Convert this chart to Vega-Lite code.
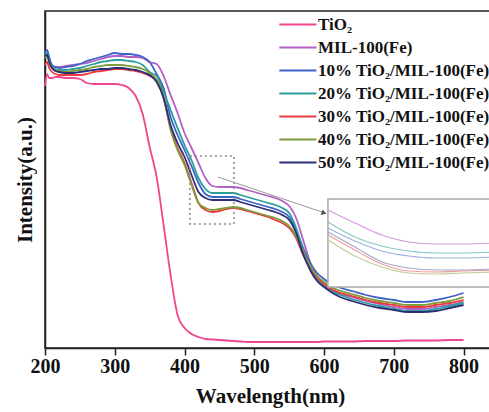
{
  "$schema": "https://vega.github.io/schema/vega-lite/v6.json",
  "width": 450,
  "height": 337,
  "autosize": "none",
  "padding": {"left": 45, "top": 11, "right": 0, "bottom": 64},
  "background": "white",
  "config": {"view": {"stroke": "#222", "strokeWidth": 1.5}, "font": "Liberation Serif"},
  "datasets": {
    "main": [
      {"wl":200,"t":262,"m":293,"a":295,"b":293,"c":283,"d":290,"e":292},
      {"wl":203,"t":274,"m":296,"a":298,"b":295,"c":286,"d":292,"e":293},
      {"wl":206,"t":270,"m":288,"a":291,"b":288,"c":280,"d":286,"e":286},
      {"wl":210,"t":270,"m":282,"a":283,"b":281,"c":276,"d":280,"e":280},
      {"wl":215,"t":271,"m":281,"a":281,"b":279,"c":274,"d":278,"e":277},
      {"wl":220,"t":271,"m":281,"a":280,"b":278,"c":273,"d":277,"e":276},
      {"wl":230,"t":270,"m":282,"a":281,"b":278,"c":273,"d":276,"e":275},
      {"wl":240,"t":270,"m":283,"a":282,"b":279,"c":273,"d":277,"e":275},
      {"wl":250,"t":269,"m":284,"a":284,"b":280,"c":273,"d":278,"e":276},
      {"wl":260,"t":265,"m":285,"a":287,"b":282,"c":274,"d":279,"e":277},
      {"wl":270,"t":264,"m":287,"a":289,"b":284,"c":276,"d":281,"e":278},
      {"wl":280,"t":264,"m":289,"a":291,"b":286,"c":277,"d":282,"e":279},
      {"wl":290,"t":264,"m":291,"a":293,"b":287,"c":278,"d":283,"e":279},
      {"wl":300,"t":264,"m":292,"a":295,"b":288,"c":279,"d":283,"e":280},
      {"wl":310,"t":263,"m":292,"a":294,"b":288,"c":279,"d":283,"e":280},
      {"wl":320,"t":260,"m":291,"a":294,"b":287,"c":278,"d":282,"e":279},
      {"wl":330,"t":252,"m":291,"a":293,"b":286,"c":277,"d":281,"e":278},
      {"wl":340,"t":234,"m":290,"a":291,"b":283,"c":275,"d":279,"e":276},
      {"wl":350,"t":201,"m":286,"a":286,"b":276,"c":272,"d":275,"e":273},
      {"wl":360,"t":171,"m":284,"a":274,"b":272,"c":268,"d":268,"e":266},
      {"wl":370,"t":123,"m":272,"a":260,"b":256,"c":250,"d":251,"e":250},
      {"wl":380,"t":73,"m":253,"a":231,"b":238,"c":220,"d":218,"e":223},
      {"wl":390,"t":33,"m":235,"a":213,"b":220,"c":200,"d":198,"e":205},
      {"wl":400,"t":20,"m":215,"a":198,"b":203,"c":185,"d":183,"e":191},
      {"wl":410,"t":14,"m":200,"a":182,"b":188,"c":165,"d":163,"e":173},
      {"wl":420,"t":11,"m":185,"a":165,"b":170,"c":145,"d":145,"e":156},
      {"wl":430,"t":9,"m":170,"a":154,"b":159,"c":138,"d":140,"e":150},
      {"wl":440,"t":8.5,"m":162,"a":151,"b":155,"c":136,"d":138,"e":148},
      {"wl":450,"t":8,"m":161,"a":151,"b":155,"c":137,"d":139,"e":148},
      {"wl":460,"t":7.5,"m":161,"a":151,"b":155,"c":139,"d":140,"e":148},
      {"wl":470,"t":7,"m":161,"a":151,"b":155,"c":140,"d":141,"e":148},
      {"wl":480,"t":6.5,"m":160,"a":149,"b":153,"c":139,"d":140,"e":146},
      {"wl":490,"t":6,"m":158,"a":147,"b":151,"c":137,"d":138,"e":144},
      {"wl":500,"t":6,"m":156,"a":145,"b":149,"c":135,"d":136,"e":142},
      {"wl":510,"t":6,"m":154,"a":143,"b":147,"c":133,"d":134,"e":140},
      {"wl":520,"t":6,"m":152,"a":141,"b":145,"c":131,"d":132,"e":138},
      {"wl":530,"t":6,"m":150,"a":139,"b":143,"c":128,"d":130,"e":136},
      {"wl":540,"t":6,"m":147,"a":136,"b":140,"c":125,"d":127,"e":133},
      {"wl":550,"t":6,"m":142,"a":131,"b":135,"c":120,"d":122,"e":128},
      {"wl":560,"t":6,"m":130,"a":118,"b":120,"c":110,"d":112,"e":115},
      {"wl":570,"t":6,"m":108,"a":100,"b":98,"c":93,"d":96,"e":94},
      {"wl":580,"t":6,"m":86,"a":85,"b":81,"c":80,"d":82,"e":78},
      {"wl":590,"t":6,"m":72,"a":75,"b":69,"c":70,"d":72,"e":67},
      {"wl":600,"t":6.5,"m":64,"a":69,"b":62,"c":64,"d":66,"e":61},
      {"wl":610,"t":6.5,"m":59,"a":64,"b":57,"c":59,"d":61,"e":56},
      {"wl":620,"t":6.5,"m":55,"a":61,"b":54,"c":56,"d":58,"e":52},
      {"wl":640,"t":6.5,"m":51,"a":57,"b":49,"c":52,"d":54,"e":47},
      {"wl":660,"t":7,"m":47,"a":53,"b":45,"c":48,"d":50,"e":43},
      {"wl":680,"t":7,"m":44,"a":50,"b":42,"c":45,"d":47,"e":40},
      {"wl":700,"t":7,"m":41,"a":48,"b":39,"c":43,"d":45,"e":38},
      {"wl":720,"t":7.5,"m":39,"a":46,"b":37,"c":41,"d":43,"e":36},
      {"wl":740,"t":7.5,"m":39,"a":46,"b":37,"c":41,"d":43,"e":36},
      {"wl":760,"t":7.5,"m":41,"a":48,"b":39,"c":43,"d":45,"e":37},
      {"wl":780,"t":8,"m":43,"a":51,"b":42,"c":45,"d":47,"e":40},
      {"wl":800,"t":8,"m":46,"a":55,"b":45,"c":48,"d":51,"e":43}
    ],
    "inset": [
      {"wl":410,"m":138,"a":120,"b":126,"c":113,"d":108,"e":116},
      {"wl":420,"m":125,"a":107,"b":111,"c":98,"d":92,"e":101},
      {"wl":430,"m":113,"a":97,"b":102,"c":84,"d":81,"e":86},
      {"wl":440,"m":106,"a":92,"b":97,"c":77,"d":75,"e":80},
      {"wl":450,"m":104,"a":90,"b":95,"c":76,"d":74,"e":78},
      {"wl":460,"m":104,"a":90,"b":95,"c":77,"d":75,"e":78},
      {"wl":472,"m":105,"a":91,"b":96,"c":78,"d":76,"e":79}
    ],
    "zoombox": [{"x1":407.7,"x2":470.8,"y1":124,"y2":192}],
    "arrow": [{"x1":448,"y1":171,"x2":597,"y2":136}],
    "arrowhead": [{"x":600,"y":135}],
    "insetbox": [{"x1":410,"x2":472,"y1":61,"y2":149}]
  },
  "layer": [
    {
      "layer": [
        {
          "data": {"name": "main"},
          "transform": [{"fold": ["t","m","a","b","c","d","e"], "as": ["series","intensity"]}],
          "mark": {"type": "line", "strokeWidth": 1.8, "interpolate": "monotone"},
          "encoding": {
            "x": {"field": "wl", "type": "quantitative",
              "scale": {"domain": [200, 845], "nice": false, "zero": false},
              "axis": {"values": [200,250,300,350,400,450,500,550,600,650,700,750,800],
                "labelExpr": "datum.value % 100 === 0 ? datum.label : ''",
                "title": "Wavelength(nm)", "titleFont": "Liberation Serif", "titleFontSize": 21, "titleFontWeight": "bold", "titleColor": "#111",
                "labelFont": "Liberation Serif", "labelFontSize": 20, "labelFontWeight": "bold", "labelColor": "#111",
                "tickColor": "#222", "tickWidth": 1.5,
                "tickSize": {"condition": {"test": "datum.value % 100 === 0", "value": 7}, "value": 4},
                "domainColor": "#222", "domainWidth": 1.5, "grid": false,
                "labelPadding": 1, "titlePadding": 9, "labelFlush": false, "labelOverlap": false}},
            "y": {"field": "intensity", "type": "quantitative",
              "scale": {"domain": [0, 337], "nice": false, "zero": false},
              "axis": {"title": "Intensity(a.u.)", "labels": false, "ticks": false, "grid": false,
                "domainColor": "#222", "domainWidth": 1.5,
                "titleFont": "Liberation Serif", "titleFontSize": 21, "titleFontWeight": "bold", "titleColor": "#111", "titlePadding": 10}},
            "color": {"field": "series", "type": "nominal",
              "scale": {"domain": ["t","m","a","b","c","d","e"],
                "range": ["#f0458f","#b260c6","#3f62c8","#2aa09c","#ec3a3e","#7f9b3c","#2c2f78"]},
              "legend": {"orient": "none", "legendX": 232, "legendY": 5, "title": null,
                "symbolType": "M-1,0H5", "symbolSize": 153, "symbolStrokeWidth": 1.8,
                "labelFont": "Liberation Serif", "labelFontSize": 17, "labelFontWeight": "bold", "labelColor": "#111",
                "labelLimit": 400, "rowPadding": 5, "padding": 0, "labelOffset": 24,
                "labelExpr": "{'t':'TiO₂','m':'MIL-100(Fe)','a':'10% TiO₂/MIL-100(Fe)','b':'20% TiO₂/MIL-100(Fe)','c':'30% TiO₂/MIL-100(Fe)','d':'40% TiO₂/MIL-100(Fe)','e':'50% TiO₂/MIL-100(Fe)'}[datum.label]"}}
          }
        },
        {
          "data": {"name": "zoombox"},
          "mark": {"type": "rect", "filled": false, "stroke": "#888", "strokeWidth": 1.5, "strokeDash": [2, 3]},
          "encoding": {
            "x": {"field": "x1", "type": "quantitative"},
            "x2": {"field": "x2"},
            "y": {"field": "y1", "type": "quantitative"},
            "y2": {"field": "y2"}
          }
        },
        {
          "data": {"name": "arrow"},
          "mark": {"type": "rule", "stroke": "#999", "strokeWidth": 1},
          "encoding": {
            "x": {"field": "x1", "type": "quantitative"},
            "x2": {"field": "x2"},
            "y": {"field": "y1", "type": "quantitative"},
            "y2": {"field": "y2"}
          }
        },
        {
          "data": {"name": "arrowhead"},
          "mark": {"type": "point", "shape": "triangle-right", "filled": true, "color": "#555", "size": 35, "angle": 18.6, "opacity": 1},
          "encoding": {
            "x": {"field": "x", "type": "quantitative"},
            "y": {"field": "y", "type": "quantitative"}
          }
        }
      ]
    },
    {
      "layer": [
        {
          "data": {"name": "insetbox"},
          "mark": {"type": "rect", "fill": "white", "stroke": "#aaa", "strokeWidth": 1.5},
          "encoding": {
            "x": {"field": "x1", "type": "quantitative", "scale": {"domain": [305, 472], "nice": false, "zero": false}, "axis": null},
            "x2": {"field": "x2"},
            "y": {"field": "y1", "type": "quantitative", "scale": {"domain": [0, 337], "nice": false, "zero": false}, "axis": null},
            "y2": {"field": "y2"}
          }
        },
        {
          "data": {"name": "inset"},
          "transform": [{"fold": ["m","a","b","c","d","e"], "as": ["series","intensity"]}],
          "mark": {"type": "line", "strokeWidth": 1.2, "interpolate": "monotone"},
          "encoding": {
            "x": {"field": "wl", "type": "quantitative", "axis": null},
            "y": {"field": "intensity", "type": "quantitative", "axis": null},
            "color": {"field": "series", "type": "nominal",
              "scale": {"domain": ["m","a","b","c","d","e"],
                "range": ["#d49ade","#9fb0e0","#86c8c6","#f29c9c","#c3cb98","#a4a6c8"]},
              "legend": null}
          }
        }
      ]
    }
  ],
  "resolve": {"scale": {"x": "independent", "y": "independent", "color": "independent"}}
}
